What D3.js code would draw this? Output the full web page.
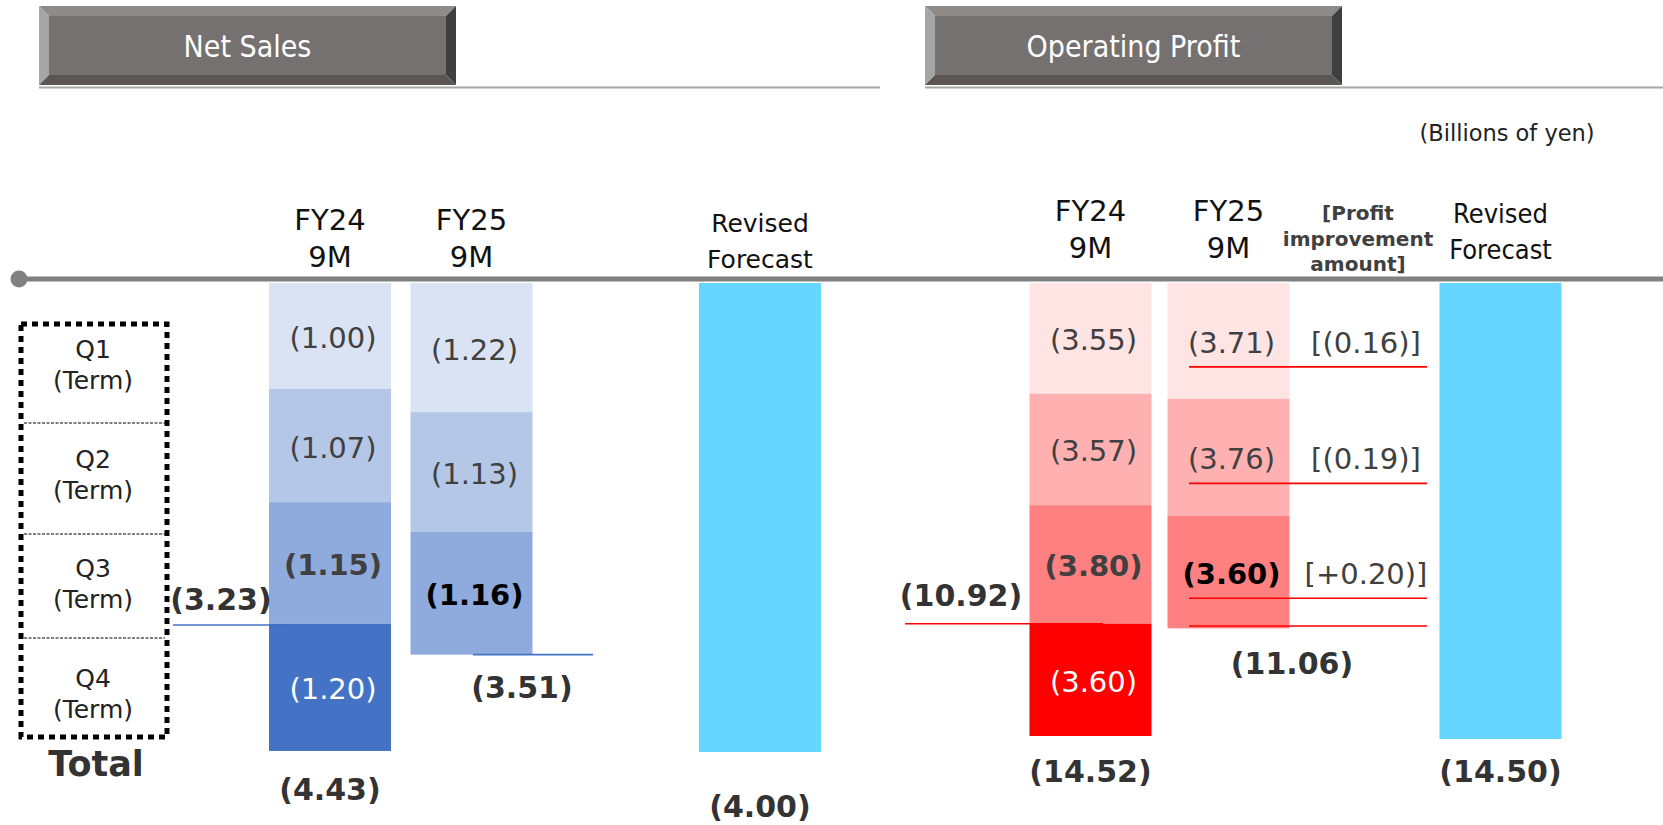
<!DOCTYPE html>
<html>
<head>
<meta charset="utf-8">
<script src="https://cdn.jsdelivr.net/npm/d3@7"></script>
<style>
  html, body { margin: 0; padding: 0; background: #fff; }
  svg { display: block; }
  text { font-family: "DejaVu Sans", Verdana, sans-serif; }
  .cond { font-family: "DejaVu Sans Condensed", "DejaVu Sans", sans-serif; }
</style>
</head>
<body>
<svg id="chart" width="1663" height="825"></svg>
<script>
// data (billions of yen, shown in brackets = loss)
const quarters = ["Q1", "Q2", "Q3", "Q4"];
const salesFY24 = [1.00, 1.07, 1.15, 1.20];
const salesFY25 = [1.22, 1.13, 1.16];
const salesTotals = {cum24: 3.23, total24: 4.43, total25: 3.51};   // reported totals (unrounded sums)
const salesForecast = 4.00;
const profitFY24 = [3.55, 3.57, 3.80, 3.60];
const profitFY25 = [3.71, 3.76, 3.60];
const profitTotals = {cum24: 10.92, total24: 14.52, total25: 11.06};
const profitForecast = 14.50;
const improvementLabels = ["[(0.16)]", "[(0.19)]", "[+0.20)]"];

const blues = ["#DAE3F3", "#B4C7E7", "#8FAADC", "#4472C4"];
const reds = ["#FFE4E4", "#FFB1B1", "#FF8080", "#FF0000"];
const cyan = "#66D5FF";

const svg = d3.select("#chart");
const fmt = v => "(" + v.toFixed(2) + ")";
const barTop = 283, barW = 122;

// stack helper: returns [{v, y0, y1, i}]
function stack(vals) {
  let acc = 0;
  return vals.map((v, i) => { const s = {v: v, y0: acc, y1: acc + v, i: i}; acc += v; return s; });
}

// bevelled title boxes
function titleBox(x0, x1, label) {
  const y0 = 6, y1 = 85, b = 10;
  const g = svg.append("g");
  const poly = (pts, c) => g.append("polygon").attr("points", pts.map(p => p.join(",")).join(" ")).attr("fill", c);
  poly([[x0, y0], [x1, y0], [x1 - b, y0 + b], [x0 + b, y0 + b]], "#8F8B89");
  poly([[x0, y0], [x0 + b, y0 + b], [x0 + b, y1 - b], [x0, y1]], "#A6A6A6");
  poly([[x1, y0], [x1, y1], [x1 - b, y1 - b], [x1 - b, y0 + b]], "#3F3F3F");
  poly([[x0, y1], [x0 + b, y1 - b], [x1 - b, y1 - b], [x1, y1]], "#5A5656");
  g.append("rect").attr("x", x0 + b).attr("y", y0 + b).attr("width", x1 - x0 - 2 * b).attr("height", y1 - y0 - 2 * b).attr("fill", "#767171");
  g.append("text").attr("class", "cond").attr("x", (x0 + x1) / 2).attr("y", 57)
    .attr("text-anchor", "middle").attr("fill", "#fff").attr("font-size", 30).text(label);
}
titleBox(39, 456, "Net Sales");
titleBox(925, 1342, "Operating Profit");
svg.append("line").attr("x1", 39).attr("x2", 880).attr("y1", 87.5).attr("y2", 87.5).attr("stroke", "#A6A6A6").attr("stroke-width", 2);
svg.append("line").attr("x1", 925).attr("x2", 1663).attr("y1", 87.5).attr("y2", 87.5).attr("stroke", "#A6A6A6").attr("stroke-width", 2);

svg.append("text").attr("x", 1507).attr("y", 141).attr("text-anchor", "middle")
  .attr("font-size", 22.5).attr("fill", "#222").text("(Billions of yen)");

// main axis line with dot
svg.append("line").attr("x1", 19).attr("x2", 1663).attr("y1", 279).attr("y2", 279).attr("stroke", "#808080").attr("stroke-width", 5);
svg.append("circle").attr("cx", 19).attr("cy", 279).attr("r", 8.5).attr("fill", "#808080");

// legend box on the left
const legend = svg.append("g");
legend.append("rect").attr("x", 21).attr("y", 324).attr("width", 146).attr("height", 413)
  .attr("fill", "none").attr("stroke", "#000").attr("stroke-width", 5).attr("stroke-dasharray", "6,5");
[423, 534, 638].forEach(y => {
  legend.append("line").attr("x1", 24).attr("x2", 165).attr("y1", y).attr("y2", y)
    .attr("stroke", "#000").attr("stroke-width", 1).attr("stroke-dasharray", "3,1.5");
});
quarters.forEach((q, i) => {
  const by = 358 + i * 109.7;
  legend.append("text").attr("x", 93).attr("y", by).attr("text-anchor", "middle").attr("font-size", 25).attr("fill", "#222").text(q);
  legend.append("text").attr("x", 93).attr("y", by + 31).attr("text-anchor", "middle").attr("font-size", 25).attr("fill", "#222").text("(Term)");
});
legend.append("text").attr("x", 96).attr("y", 776).attr("text-anchor", "middle")
  .attr("font-size", 35).attr("font-weight", "bold").attr("fill", "#333").text("Total");

// ---------- generic panel ----------
function panel(opt) {
  const tot = opt.totals;
  const y = d3.scaleLinear().domain([0, tot.total24]).range([barTop, opt.bottom]);
  const x = d3.scaleOrdinal().domain(["FY24", "FY25", "FC"]).range(opt.centers);
  const g = svg.append("g");

  // column headers
  ["FY24", "FY25"].forEach(k => {
    g.append("text").attr("x", x(k)).attr("y", opt.headY).attr("text-anchor", "middle").attr("font-size", 29).attr("fill", "#111").text(k);
    g.append("text").attr("x", x(k)).attr("y", opt.headY + 37).attr("text-anchor", "middle").attr("font-size", 29).attr("fill", "#111").text("9M");
  });
  g.append("text").attr("class", opt.fcClass).attr("x", x("FC")).attr("y", opt.fcHeadY).attr("text-anchor", "middle").attr("font-size", opt.fcSize).attr("fill", "#111").text("Revised");
  g.append("text").attr("class", opt.fcClass).attr("x", x("FC")).attr("y", opt.fcHeadY + 36).attr("text-anchor", "middle").attr("font-size", opt.fcSize).attr("fill", "#111").text("Forecast");

  // stacked columns
  [["FY24", stack(opt.fy24), opt.styles24], ["FY25", stack(opt.fy25), opt.styles25]].forEach(([k, segs, styles]) => {
    g.selectAll(null).data(segs).enter().append("rect")
      .attr("x", x(k) - barW / 2).attr("width", barW)
      .attr("y", d => y(d.y0)).attr("height", d => y(d.y1) - y(d.y0))
      .attr("fill", d => opt.colors[d.i]);
    g.selectAll(null).data(segs).enter().append("text")
      .attr("x", x(k) + 3).attr("y", d => (y(d.y0) + y(d.y1)) / 2 + 12)
      .attr("text-anchor", "middle").attr("font-size", 29)
      .attr("font-weight", d => styles[d.i].bold ? "bold" : "normal")
      .attr("fill", d => styles[d.i].color)
      .text(d => fmt(d.v));
  });

  // forecast column, drawn full depth as on the source slide
  const fcBottom = y(d3.max([tot.total24, tot.total25, opt.forecast]));
  g.append("rect").attr("x", x("FC") - barW / 2).attr("width", barW)
    .attr("y", barTop).attr("height", fcBottom - barTop + opt.fcExtra).attr("fill", cyan);

  // totals
  const bold = (xx, yy, t, c) => g.append("text").attr("x", xx).attr("y", yy).attr("text-anchor", "middle")
    .attr("font-size", 30).attr("font-weight", "bold").attr("fill", c || "#333").text(t);
  bold(x("FY24"), y(tot.total24) + opt.totOff, fmt(tot.total24));
  bold(x("FC"), fcBottom + opt.fcTotOff, fmt(opt.forecast));

  // 9M cumulative markers
  g.append("line").attr("x1", opt.cum24Line[0]).attr("x2", opt.cum24Line[1])
    .attr("y1", y(tot.cum24)).attr("y2", y(tot.cum24)).attr("stroke", opt.lineColor).attr("stroke-width", 1.6);
  bold(opt.cum24Label[0], y(tot.cum24) + opt.cum24Label[1], fmt(tot.cum24));
  g.append("line").attr("x1", opt.cum25Line[0]).attr("x2", opt.cum25Line[1])
    .attr("y1", y(tot.total25) + opt.cum25Line[2]).attr("y2", y(tot.total25) + opt.cum25Line[2]).attr("stroke", opt.lineColor).attr("stroke-width", 1.6);
  bold(opt.cum25Label[0], y(tot.total25) + opt.cum25Label[1], fmt(tot.total25));

  return {g: g, y: y, x: x, segs25: stack(opt.fy25)};
}

const dark = "#404040";
panel({
  fy24: salesFY24, fy25: salesFY25, totals: salesTotals, forecast: salesForecast,
  bottom: 752, centers: [330, 471.5, 760], colors: blues,
  headY: 230, fcHeadY: 232, fcSize: 25, fcClass: "", fcExtra: 0,
  styles24: [{color: dark}, {color: dark}, {color: dark, bold: true}, {color: "#fff"}],
  styles25: [{color: dark}, {color: dark}, {color: "#000", bold: true}],
  totOff: 48, fcTotOff: 65, lineColor: "#4472C4",
  cum24Line: [173, 292], cum24Label: [221, -15],
  cum25Line: [473, 593, 0], cum25Label: [522, 43]
});

const op = panel({
  fy24: profitFY24, fy25: profitFY25, totals: profitTotals, forecast: profitForecast,
  bottom: 736, centers: [1090.5, 1228.5, 1500.5], colors: reds,
  headY: 221, fcHeadY: 223, fcSize: 27, fcClass: "cond", fcExtra: 3,
  styles24: [{color: dark}, {color: dark}, {color: dark, bold: true}, {color: "#fff"}],
  styles25: [{color: dark}, {color: dark}, {color: "#000", bold: true}],
  totOff: 46, fcTotOff: 46, lineColor: "#FF0000",
  cum24Line: [905, 1103], cum24Label: [961, -18],
  cum25Line: [1189, 1427, -2], cum25Label: [1292, 46]
});

// profit improvement column
const impX = 1366;
[["[Profit", 220], ["improvement", 246], ["amount]", 271]].forEach(([t, yy]) => {
  op.g.append("text").attr("x", 1358).attr("y", yy).attr("text-anchor", "middle")
    .attr("font-size", 20).attr("font-weight", "bold").attr("fill", dark).text(t);
});
op.segs25.forEach((d, i) => {
  const by = (op.y(d.y0) + op.y(d.y1)) / 2 + 12;
  op.g.append("text").attr("x", impX).attr("y", by).attr("text-anchor", "middle")
    .attr("font-size", 29).attr("fill", dark).text(improvementLabels[i]);
  op.g.append("line").attr("x1", 1189).attr("x2", 1427).attr("y1", by + 14).attr("y2", by + 14)
    .attr("stroke", "#FF0000").attr("stroke-width", 1.6);
});
</script>
</body>
</html>
